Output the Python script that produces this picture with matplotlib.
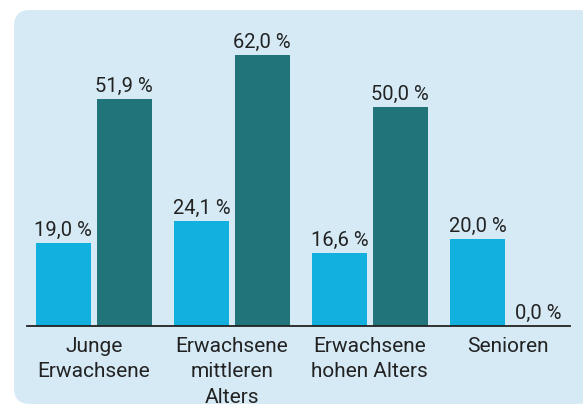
import numpy as np
import matplotlib
matplotlib.use('Agg')
import matplotlib.pyplot as plt
from matplotlib.patches import FancyBboxPatch

# data
categories = ['Junge\nErwachsene', 'Erwachsene\nmittleren\nAlters',
              'Erwachsene\nhohen Alters', 'Senioren']
series_a = [19.0, 24.1, 16.6, 20.0]
series_b = [51.9, 62.0, 50.0, 0.0]

col_a = '#12b0df'
col_b = '#21747a'
bg = '#d5eaf5'
txt = '#222222'

plt.rcParams['font.family'] = ['Roboto', 'DejaVu Sans']

fig = plt.figure(figsize=(5.83, 4.05), dpi=100)
fig.patch.set_facecolor('white')

# rounded background panel (pixel coordinates)
panel = FancyBboxPatch((14, 1), 580, 394, boxstyle='round,pad=0,rounding_size=16',
                       transform=None, facecolor=bg, edgecolor='none', zorder=-10)
fig.patches.append(panel)

W, H = 583, 405
ax = fig.add_axes([27 / W, 79 / H, 543 / W, 306 / H])
ax.set_facecolor('none')
ax.set_zorder(5)

x = np.arange(len(categories))
w = 0.397
off = (w + 0.043) / 2
ba = ax.bar(x - off, series_a, w, color=col_a)
bb = ax.bar(x + off, series_b, w, color=col_b)

for bars, vals in ((ba, series_a), (bb, series_b)):
    for r, v in zip(bars, vals):
        ax.text(r.get_x() + r.get_width() / 2, v + 0.7, f'{v:.1f} %'.replace('.', ','),
                ha='center', va='bottom', fontsize=14.5, color=txt)

ax.set_xlim(-0.484, 3.451)
ax.set_ylim(0, 70)
ax.set_xticks(x)
ax.set_xticklabels(categories, fontsize=15, color=txt, linespacing=1.42)
ax.tick_params(axis='x', length=0, pad=8)
ax.set_yticks([])
for s in ['top', 'right', 'left']:
    ax.spines[s].set_visible(False)
ax.spines['bottom'].set_color('#222222')
ax.spines['bottom'].set_linewidth(1.3)

fig.savefig('out.png', dpi=100)
